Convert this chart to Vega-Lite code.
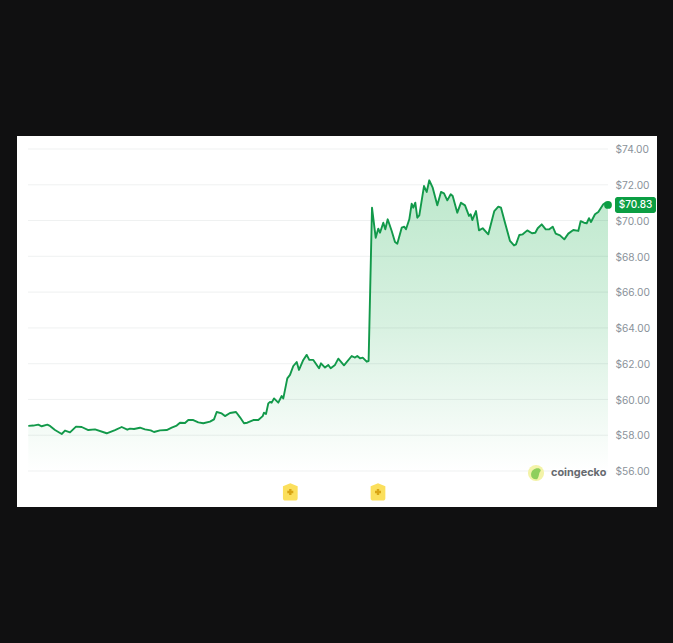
{"$schema":"https://vega.github.io/schema/vega-lite/v6.json","width":640,"height":371,"autosize":{"type":"none"},"padding":{"left":17,"top":136,"right":16,"bottom":136},"background":"#101011","view":{"fill":"#ffffff","stroke":null},"config":{"font":"Inter"},"data":{"values":[{"t":0.3,"price":58.52},{"t":5.3,"price":58.54},{"t":10.3,"price":58.59},{"t":13.7,"price":58.5},{"t":19.3,"price":58.59},{"t":22,"price":58.52},{"t":27,"price":58.29},{"t":33.7,"price":58.07},{"t":37,"price":58.26},{"t":42,"price":58.16},{"t":48,"price":58.48},{"t":53.7,"price":58.46},{"t":60.3,"price":58.29},{"t":67,"price":58.33},{"t":78.7,"price":58.11},{"t":87,"price":58.29},{"t":93.7,"price":58.46},{"t":99.3,"price":58.31},{"t":102,"price":58.37},{"t":106,"price":58.35},{"t":112,"price":58.42},{"t":117,"price":58.33},{"t":122.7,"price":58.27},{"t":126,"price":58.18},{"t":132,"price":58.27},{"t":138.7,"price":58.29},{"t":143.7,"price":58.42},{"t":148.7,"price":58.54},{"t":152,"price":58.7},{"t":157,"price":58.68},{"t":160.3,"price":58.85},{"t":165.3,"price":58.85},{"t":170.3,"price":58.72},{"t":175.3,"price":58.67},{"t":182,"price":58.76},{"t":186,"price":58.89},{"t":188.7,"price":59.3},{"t":193.7,"price":59.22},{"t":197,"price":59.07},{"t":202,"price":59.24},{"t":208,"price":59.3},{"t":212,"price":59},{"t":216,"price":58.67},{"t":219.3,"price":58.7},{"t":225.3,"price":58.85},{"t":230.3,"price":58.85},{"t":234.7,"price":59.07},{"t":236,"price":59.26},{"t":238,"price":59.19},{"t":240.3,"price":59.78},{"t":242,"price":59.86},{"t":243.7,"price":59.82},{"t":246,"price":60.06},{"t":250.3,"price":59.82},{"t":253.7,"price":60.19},{"t":255.3,"price":60.06},{"t":259.3,"price":61.18},{"t":262,"price":61.37},{"t":265.3,"price":61.87},{"t":268.7,"price":62.09},{"t":271,"price":61.65},{"t":275.3,"price":62.21},{"t":278.7,"price":62.49},{"t":281.3,"price":62.21},{"t":285.3,"price":62.21},{"t":291,"price":61.74},{"t":293,"price":62.02},{"t":297,"price":61.78},{"t":300.3,"price":61.93},{"t":302.7,"price":61.74},{"t":307,"price":61.93},{"t":310.3,"price":62.28},{"t":316,"price":61.91},{"t":323.7,"price":62.43},{"t":327,"price":62.34},{"t":329.3,"price":62.43},{"t":332,"price":62.3},{"t":334.7,"price":62.34},{"t":338.7,"price":62.11},{"t":340.6,"price":62.15},{"t":344,"price":70.72},{"t":347.7,"price":69.04},{"t":350.3,"price":69.55},{"t":352,"price":69.32},{"t":355.3,"price":69.88},{"t":357.3,"price":69.51},{"t":359.7,"price":70.07},{"t":363.7,"price":69.42},{"t":367,"price":68.8},{"t":369.3,"price":68.71},{"t":373.7,"price":69.6},{"t":376.3,"price":69.66},{"t":378,"price":69.51},{"t":381.3,"price":70.07},{"t":383.7,"price":70.94},{"t":385.3,"price":70.72},{"t":387.3,"price":71},{"t":389.3,"price":70.16},{"t":391.3,"price":70.29},{"t":396,"price":71.93},{"t":398.7,"price":71.6},{"t":401.3,"price":72.25},{"t":404.7,"price":71.84},{"t":409.3,"price":70.85},{"t":413,"price":71.6},{"t":416,"price":71.52},{"t":419.3,"price":71.13},{"t":422.7,"price":71.47},{"t":424.7,"price":71.37},{"t":429.3,"price":70.44},{"t":433,"price":71},{"t":437,"price":70.85},{"t":441,"price":70.26},{"t":442.7,"price":70.35},{"t":444.3,"price":70.03},{"t":448,"price":70.53},{"t":451,"price":69.45},{"t":454.7,"price":69.57},{"t":460.3,"price":69.23},{"t":466.3,"price":70.53},{"t":470.3,"price":70.78},{"t":473,"price":70.72},{"t":477,"price":69.88},{"t":482,"price":68.86},{"t":486,"price":68.61},{"t":488,"price":68.67},{"t":491.3,"price":69.19},{"t":494.7,"price":69.23},{"t":499.3,"price":69.45},{"t":504,"price":69.29},{"t":507.3,"price":69.32},{"t":509.7,"price":69.57},{"t":513.7,"price":69.79},{"t":517.7,"price":69.51},{"t":521.3,"price":69.51},{"t":524.7,"price":69.66},{"t":527.7,"price":69.27},{"t":532,"price":69.17},{"t":536.3,"price":68.95},{"t":540.3,"price":69.27},{"t":545.3,"price":69.47},{"t":550.3,"price":69.42},{"t":552.7,"price":69.97},{"t":556,"price":69.88},{"t":558.7,"price":69.85},{"t":561,"price":70.13},{"t":563,"price":69.92},{"t":567,"price":70.35},{"t":570.3,"price":70.48},{"t":575.3,"price":70.91},{"t":578,"price":71},{"t":580,"price":70.87}]},"encoding":{"x":{"field":"t","type":"quantitative","scale":{"domain":[-11,629],"nice":false,"zero":false},"axis":null},"y":{"field":"price","type":"quantitative","scale":{"domain":[53.988,74.727],"nice":false,"zero":false},"axis":{"orient":"right","title":null,"values":[56,58,60,62,64,66,68,70,72,74],"format":"$.2f","grid":false,"ticks":false,"domain":false,"labelAlign":"left","labelPadding":-42,"labelOffset":0.7,"labelFontSize":10.2,"labelColor":"#8a929a"}}},"layer":[{"mark":{"type":"area","line":false,"color":{"gradient":"linear","x1":0,"y1":0,"x2":0,"y2":1,"stops":[{"offset":0,"color":"#bde8cc"},{"offset":0.5,"color":"#d8f1e1"},{"offset":1,"color":"#ffffff"}]}},"encoding":{"y2":{"datum":56}}},{"data":{"values":[{"t":0,"t2":580,"price":56},{"t":0,"t2":580,"price":58},{"t":0,"t2":580,"price":60},{"t":0,"t2":580,"price":62},{"t":0,"t2":580,"price":64},{"t":0,"t2":580,"price":66},{"t":0,"t2":580,"price":68},{"t":0,"t2":580,"price":70},{"t":0,"t2":580,"price":72},{"t":0,"t2":580,"price":74}]},"mark":{"type":"rule","stroke":"#1d3a3a","strokeOpacity":0.07,"strokeWidth":1},"encoding":{"x2":{"field":"t2"}}},{"mark":{"type":"line","stroke":"#12994a","strokeWidth":1.9,"strokeJoin":"round"}},{"data":{"values":[{"t":580,"price":70.87}]},"mark":{"type":"point","filled":true,"fill":"#0b9e43","opacity":1,"size":60}},{"data":{"values":[{"t":587,"t2":628,"price":71.32,"price2":70.42}]},"mark":{"type":"rect","fill":"#0b9e43","cornerRadius":2.5},"encoding":{"x2":{"field":"t2"},"y2":{"field":"price2"}}},{"data":{"values":[{"t":607.5,"price":70.85,"label":"$70.83"}]},"mark":{"type":"text","color":"#ffffff","fontSize":10,"fontWeight":500,"align":"center","baseline":"middle"},"encoding":{"text":{"field":"label"}}},{"data":{"values":[{"t":262.3,"price":54.83},{"t":350,"price":54.83}]},"mark":{"type":"point","filled":true,"fill":"#fbdf5c","opacity":1,"size":300,"shape":"M0,-1 L0.85,-0.65 L0.85,0.7 Q0.85,1 0.55,1 L-0.55,1 Q-0.85,1 -0.85,0.7 L-0.85,-0.65 Z"}},{"data":{"values":[{"t":262.3,"price":54.83},{"t":350,"price":54.83}]},"mark":{"type":"point","filled":true,"fill":"#d9a514","opacity":1,"size":36,"shape":"cross"}},{"data":{"values":[{"t":508,"price":55.89}]},"mark":{"type":"point","filled":true,"fill":"#f3f3a8","opacity":1,"size":260,"shape":"circle"}},{"data":{"values":[{"t":508,"price":55.85}]},"mark":{"type":"point","filled":true,"fill":"#8fcf5c","opacity":1,"size":120,"shape":"M-0.9,0.2 C-0.9,-0.6 -0.3,-1 0.3,-1 C0.9,-1 1,-0.5 0.7,-0.3 C0.5,0 0.6,0.6 0.2,1 C-0.4,1.1 -0.9,0.8 -0.9,0.2 Z"}},{"data":{"values":[{"t":523,"price":55.87,"label":"coingecko"}]},"mark":{"type":"text","color":"#666a6f","fontSize":10.9,"fontWeight":700,"align":"left","baseline":"middle"},"encoding":{"text":{"field":"label"}}}]}
